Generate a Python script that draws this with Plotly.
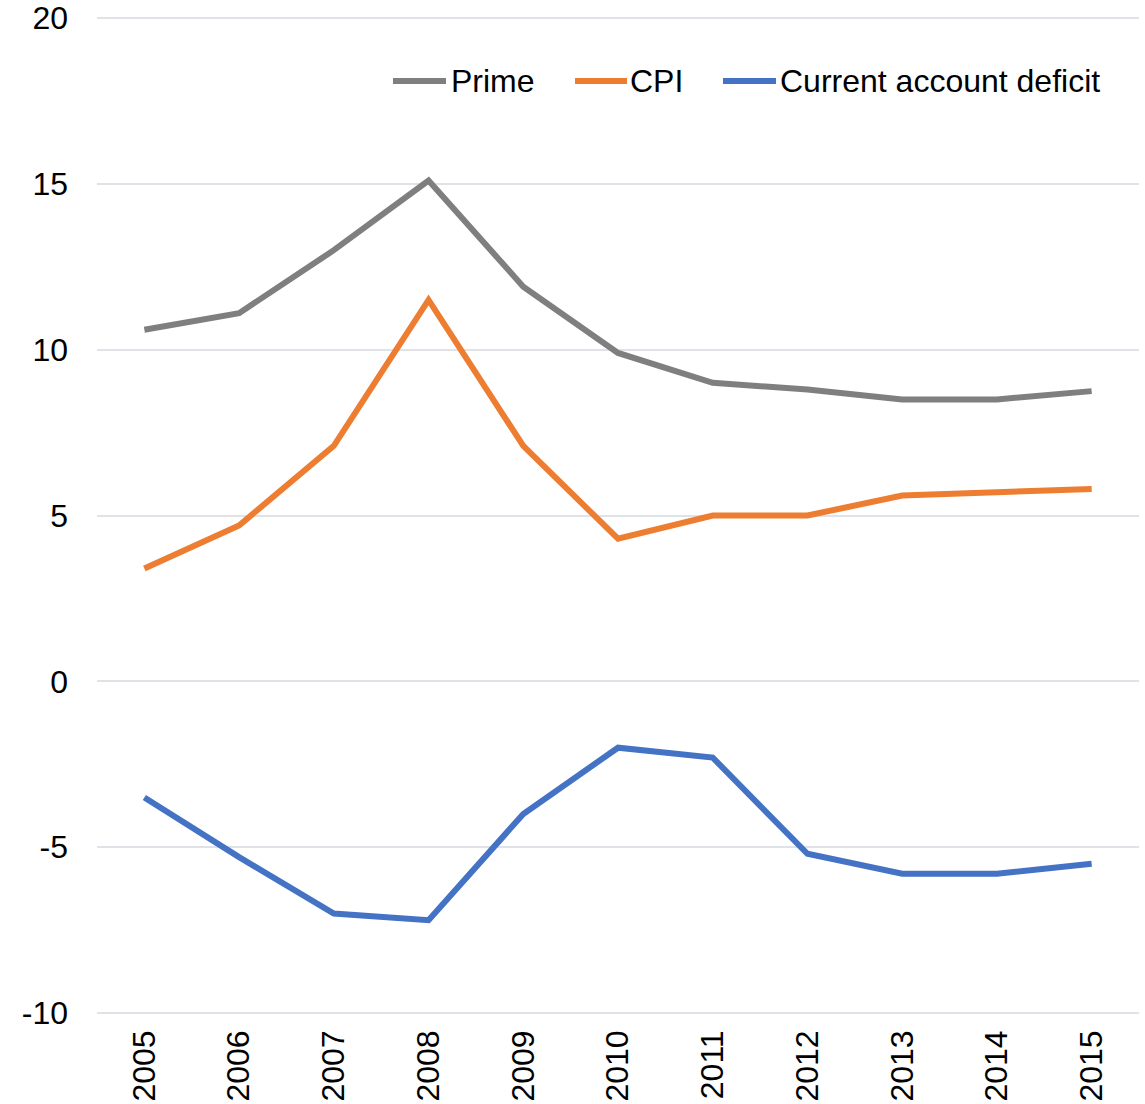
import plotly.graph_objects as go

years = ["2005", "2006", "2007", "2008", "2009", "2010", "2011", "2012", "2013", "2014", "2015"]
prime = [10.6, 11.1, 13.0, 15.1, 11.9, 9.9, 9.0, 8.8, 8.5, 8.5, 8.75]
cpi = [3.4, 4.7, 7.1, 11.5, 7.1, 4.3, 5.0, 5.0, 5.6, 5.7, 5.8]
ca_deficit = [-3.5, -5.3, -7.0, -7.2, -4.0, -2.0, -2.3, -5.2, -5.8, -5.8, -5.5]
y_ticks = [-10, -5, 0, 5, 10, 15, 20]
y_tick_text = ["-10", "-5", "0", "5", "10", "15", "20"]

series = [
    ("Prime", prime, "#7F7F7F"),
    ("CPI", cpi, "#ED7D31"),
    ("Current account deficit", ca_deficit, "#4472C4"),
]

W, H = 1145, 1104
M_L, M_R, M_T, M_B = 97, 6, 16, 89
plot_w = W - M_L - M_R
plot_h = H - M_T - M_B

fig = go.Figure()
for name, vals, color in series:
    fig.add_trace(go.Scatter(
        x=years, y=vals, name=name, mode="lines",
        line=dict(color=color, width=6), showlegend=False,
    ))

font_family = "Liberation Sans, Arial, sans-serif"
grid_color = "#DFE3E8"

# Legend drawn as short line keys plus labels along the top right of the plot
legend_y = 1 - (81 - M_T) / plot_h
legend_keys = [(393, 446, 449), (575, 627, 628), (723, 776, 778)]  # key start, key end, label start (px)
for (name, _, color), (k0, k1, t0) in zip(series, legend_keys):
    fig.add_shape(
        type="line", xref="paper", yref="paper",
        x0=(k0 - M_L) / plot_w, x1=(k1 - M_L) / plot_w, y0=legend_y, y1=legend_y,
        line=dict(color=color, width=6),
    )
    fig.add_annotation(
        text=name, xref="paper", yref="paper",
        x=(t0 - M_L) / plot_w, y=legend_y, xanchor="left", yanchor="middle",
        showarrow=False, font=dict(size=32, color="#000000"),
    )

fig.update_layout(
    width=W, height=H,
    margin=dict(l=M_L, r=M_R, t=M_T, b=M_B),
    paper_bgcolor="white", plot_bgcolor="white",
    font=dict(family=font_family, size=32, color="#000000"),
    showlegend=False,
    xaxis=dict(
        type="category", range=[-0.5, 10.5], tickangle=-90,
        showgrid=False, showline=False, ticks="", zeroline=False,
        ticklabelstandoff=8, tickfont=dict(size=32), automargin=False,
    ),
    yaxis=dict(
        range=[-10.06, 20.06], tickvals=y_ticks, ticktext=y_tick_text,
        showgrid=True, gridcolor=grid_color, gridwidth=2,
        zeroline=True, zerolinecolor=grid_color, zerolinewidth=2,
        showline=False, ticks="", ticklabelstandoff=28,
        tickfont=dict(size=32), automargin=False,
    ),
)

fig.write_html("out.html")
